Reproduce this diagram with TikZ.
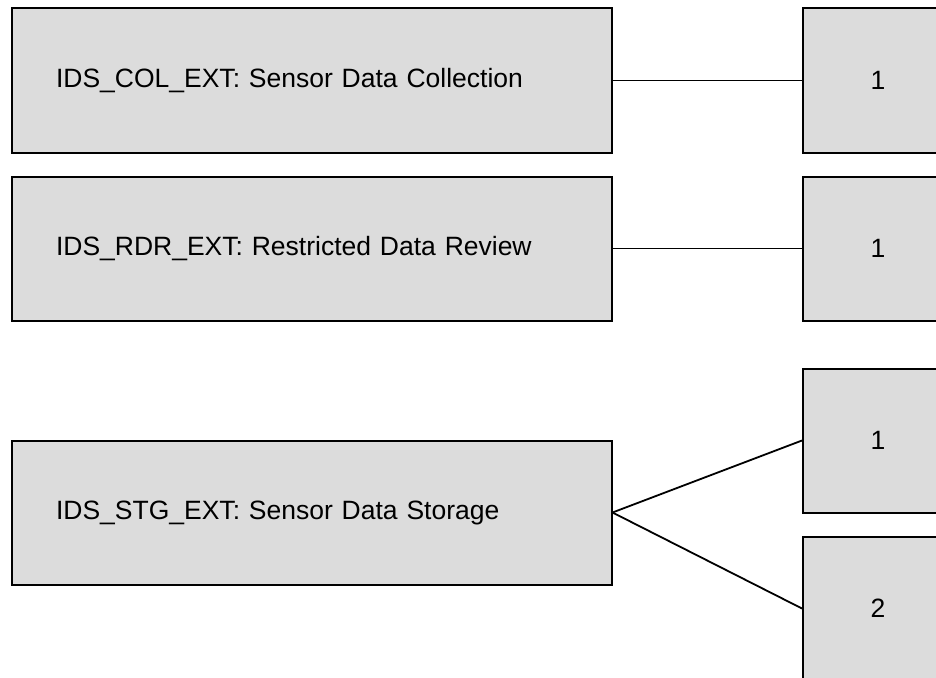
\documentclass[tikz,border=0pt]{standalone}
\usepackage{fontspec}
\setmainfont{Liberation Sans}
\begin{document}
\begin{tikzpicture}[x=1pt,y=-1pt,
  leftbox/.style={draw=black,fill=boxgray,line width=2pt,minimum width=600pt,minimum height=144pt,
    text width=511pt,align=left,inner xsep=44.5pt,inner ysep=0pt,anchor=north west,
    font=\fontsize{26.5}{30}\selectfont},
  rightbox/.style={draw=black,fill=boxgray,line width=2pt,minimum width=150pt,minimum height=144pt,
    inner sep=0pt,anchor=north west,font=\fontsize{26.5}{30}\selectfont},
  conn/.style={draw=black,line width=1.8pt}]
\definecolor{boxgray}{RGB}{220,220,220}
\useasboundingbox (0,0) rectangle (936,677);
\clip (0,0) rectangle (936,677);
\fill[white] (0,0) rectangle (936,677);
\node[leftbox] (a) at (10.5,7.5) {IDS\_COL\_EXT: Sensor Data Collection};
\node[leftbox] (b) at (10.5,175.5) {IDS\_RDR\_EXT: Restricted Data Review};
\node[leftbox] (c) at (10.5,439.5) {IDS\_STG\_EXT: Sensor Data Storage};
\node[rightbox] (r1) at (802,7.5) {1};
\node[rightbox] (r2) at (802,175.5) {1};
\node[rightbox] (r3) at (802,367.5) {1};
\node[rightbox] (r4) at (802,535.5) {2};
\draw[conn] (a.east) -- (r1.west);
\draw[conn] (b.east) -- (r2.west);
\draw[conn] (c.east) -- (r3.west);
\draw[conn] (c.east) -- (r4.west);
\end{tikzpicture}
\end{document}
